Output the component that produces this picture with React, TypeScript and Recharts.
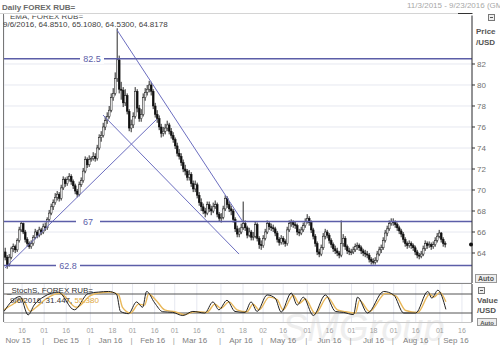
import React from "react";
import {
  ComposedChart,
  LineChart,
  Bar,
  Line,
  XAxis,
  YAxis,
  CartesianGrid,
  ReferenceLine,
  ReferenceDot,
} from "recharts";

// daily USD/RUB candles, weekdays from 11/3/2015 (last candle 9/6/2016)
const closes = [
  63.6, 62.9, 63.6, 64.4, 64.6, 64.3, 65.2, 66.2, 66.8, 66.0, 65.3, 64.9, 64.6, 64.9, 65.5, 66.0, 65.7, 66.2, 66.0, 66.5,
  66.4, 67.2, 67.8, 68.4, 68.8, 69.3, 69.6, 69.2, 70.2, 71.0, 70.6, 71.0, 71.3, 70.8, 70.4, 69.9, 69.6, 70.5, 70.9, 71.8, 72.9, 72.4, 72.9,
  73.0, 73.2, 73.0, 74.0, 75.0, 75.2, 76.0, 76.6, 77.0, 77.6, 78.8, 79.2, 80.6, 82.4, 79.6, 79.5, 78.3, 79.0, 77.5, 75.9, 76.2,
  77.0, 79.4, 77.8, 76.8, 77.2, 78.8, 79.3, 79.6, 80.0, 79.4, 78.0, 77.2, 76.8, 76.0, 75.4, 75.6, 75.9, 76.2, 75.6, 75.2, 74.8,
  74.2, 73.5, 73.2, 72.6, 72.0, 71.8, 71.2, 71.5, 70.6, 70.1, 70.5, 69.5, 68.8, 68.4, 68.0, 67.8, 68.6, 68.2, 68.0, 68.4, 68.6, 67.7, 67.3,
  67.4, 68.2, 69.2, 68.6, 68.2, 68.0, 67.2, 66.3, 65.8, 66.0, 66.4, 66.8, 66.4, 65.7, 66.0, 65.5, 65.6, 66.7, 65.4, 64.8, 64.7,
  65.4, 66.0, 66.8, 66.5, 66.4, 66.3, 65.9, 65.3, 65.0, 65.4, 65.1, 64.9, 66.2, 66.8, 66.9, 66.7, 66.6, 66.0, 65.9, 66.2, 66.6, 67.0,
  67.3, 66.9, 66.2, 65.6, 64.9, 64.1, 63.9, 64.5, 65.6, 66.0, 65.7, 65.2, 64.8, 64.4, 64.2, 64.0, 63.8, 64.9, 65.4, 64.6, 64.2, 64.1,
  64.1, 64.3, 64.6, 64.7, 64.5, 64.2, 64.0, 63.9, 63.8, 63.4, 63.2, 63.1, 63.3, 63.9, 64.3, 64.5, 65.2, 65.9, 66.3, 66.8, 67.0,
  66.9, 66.7, 66.4, 66.1, 65.8, 65.3, 64.9, 64.7, 64.9, 64.7, 64.5, 64.1, 63.8, 63.7, 63.9, 64.4, 64.9, 64.7, 64.8, 64.6, 64.8, 65.2, 65.6,
  65.9, 65.3, 64.9, 64.8178,
];
const highs = [
  64.5, 63.8, 63.9, 64.6, 64.9, 64.8, 65.4, 66.5, 67.0, 66.9, 66.2, 65.5, 65.1, 65.2, 65.7, 66.3, 66.2, 66.5, 66.4, 66.8,
  66.9, 67.4, 68.1, 68.7, 69.1, 69.7, 69.9, 69.8, 70.5, 71.3, 71.2, 71.3, 71.6, 71.5, 71.0, 70.6, 70.1, 70.8, 71.2, 72.1, 73.2, 73.1, 73.3,
  73.2, 73.6, 73.5, 74.3, 75.3, 75.6, 76.4, 77.0, 77.4, 78.0, 79.2, 79.7, 81.2, 85.4, 82.8, 80.3, 79.8, 79.6, 79.2, 77.7, 76.7,
  77.4, 79.8, 79.6, 78.1, 77.7, 79.2, 79.7, 80.0, 80.4, 80.3, 79.6, 78.3, 77.6, 77.1, 76.3, 76.0, 76.3, 76.6, 76.4, 75.9, 75.5,
  75.0, 74.5, 73.9, 73.5, 72.9, 72.4, 72.0, 71.9, 71.7, 70.9, 70.9, 70.7, 69.8, 69.2, 68.7, 68.3, 68.9, 68.9, 68.5, 68.8, 69.0, 68.8, 67.9,
  67.8, 68.5, 69.5, 69.4, 68.9, 68.5, 68.2, 67.4, 66.6, 66.4, 66.8, 68.9, 67.1, 66.6, 66.4, 66.2, 66.0, 67.0, 66.9, 65.6, 65.2,
  65.7, 66.3, 67.1, 67.0, 66.8, 66.7, 66.5, 66.1, 65.5, 65.7, 65.6, 65.3, 66.5, 67.1, 67.2, 67.1, 67.0, 66.8, 66.3, 66.5, 66.9, 67.3,
  67.7, 67.5, 67.1, 66.4, 65.8, 65.1, 64.4, 64.8, 65.9, 66.3, 66.2, 65.9, 65.4, 65.0, 64.7, 64.5, 64.2, 67.1, 65.8, 65.6, 64.8, 64.5,
  64.4, 64.6, 64.9, 65.0, 64.9, 64.7, 64.4, 64.3, 64.2, 64.0, 63.6, 63.5, 63.6, 64.2, 64.6, 64.8, 65.5, 66.2, 66.6, 67.1, 67.3,
  67.3, 67.1, 66.9, 66.6, 66.3, 66.0, 65.5, 65.1, 65.2, 65.1, 64.9, 64.7, 64.3, 64.0, 64.2, 64.7, 65.2, 65.1, 65.1, 65.0, 65.1, 65.5, 65.9,
  66.2, 66.0, 65.5, 65.108,
];
const lows = [
  63.3, 62.5, 62.7, 63.4, 64.1, 64.0, 64.1, 65.0, 66.0, 65.8, 65.0, 64.6, 64.4, 64.4, 64.7, 65.3, 65.4, 65.5, 65.7, 65.8,
  66.1, 66.2, 67.0, 67.6, 68.1, 68.6, 69.0, 68.9, 69.0, 70.0, 70.3, 70.4, 70.8, 70.5, 70.1, 69.6, 69.3, 69.4, 70.3, 70.7, 71.6, 72.1, 72.2,
  72.7, 72.8, 72.7, 72.8, 73.8, 74.6, 75.0, 75.7, 76.3, 76.8, 77.4, 78.5, 79.0, 80.3, 79.2, 78.6, 77.9, 78.0, 77.2, 75.6, 75.5,
  75.9, 76.8, 77.4, 76.5, 76.5, 77.0, 78.5, 79.0, 79.3, 79.0, 77.7, 76.9, 76.4, 75.7, 75.0, 75.1, 75.3, 75.6, 75.3, 74.9, 74.5,
  73.9, 73.2, 72.9, 72.3, 71.7, 71.4, 70.9, 70.9, 70.3, 69.8, 69.8, 69.2, 68.5, 68.0, 67.7, 67.4, 67.6, 67.9, 67.6, 67.8, 68.2, 67.4, 67.0,
  66.9, 67.2, 68.0, 68.3, 67.9, 67.6, 66.9, 66.0, 65.5, 65.5, 65.8, 66.2, 66.1, 65.4, 65.5, 65.2, 65.2, 65.4, 65.1, 64.4, 64.3,
  64.5, 65.2, 65.8, 66.2, 66.1, 66.0, 65.6, 65.0, 64.7, 64.8, 64.8, 64.6, 64.7, 66.0, 66.5, 66.4, 66.3, 65.7, 65.6, 65.7, 66.0, 66.4,
  66.8, 66.6, 65.9, 65.3, 64.6, 63.8, 63.6, 63.7, 64.3, 65.3, 65.4, 64.9, 64.5, 64.1, 63.9, 63.7, 63.5, 63.6, 64.6, 64.3, 63.9, 63.8,
  63.8, 63.9, 64.1, 64.3, 64.2, 63.9, 63.7, 63.6, 63.5, 63.1, 62.9, 62.9, 62.9, 63.1, 63.7, 64.0, 64.3, 65.0, 65.6, 66.1, 66.6,
  66.6, 66.4, 66.1, 65.8, 65.5, 65.0, 64.6, 64.4, 64.5, 64.4, 64.2, 63.8, 63.5, 63.4, 63.5, 63.7, 64.2, 64.4, 64.5, 64.3, 64.4, 64.6, 65.0,
  65.4, 65.0, 64.6, 64.53,
];
const firstOpen = 64.1;

// stochastic readings (day index, value)
const stochK: [number, number][] = [
  [0, 25], [4, 58], [8, 72], [12, 14], [15, 45], [20, 72], [27, 86], [35, 30], [42, 82], [47, 86], [52, 88],
  [56, 80], [58, 25], [62, 18], [66, 55], [69, 38], [71, 88], [75, 52], [79, 24], [84, 22], [89, 12], [94, 25],
  [100, 20], [104, 55], [107, 30], [111, 60], [115, 25], [120, 22], [123, 55], [126, 25], [131, 77], [135, 67],
  [138, 23], [143, 83], [146, 45], [149, 70], [154, 12], [160, 77], [165, 25], [169, 22], [174, 15], [176, 70],
  [181, 20], [189, 88], [194, 77], [199, 20], [205, 20], [211, 88], [213, 67], [216, 92], [220, 31.447],
];
const stochD: [number, number][] = [
  [0, 30], [5, 50], [9, 65], [13, 25], [16, 38], [21, 65], [28, 82], [36, 38], [43, 75], [48, 84], [53, 86],
  [57, 78], [59, 38], [63, 20], [67, 48], [70, 45], [72, 80], [76, 58], [80, 30], [85, 24], [90, 15], [95, 24],
  [101, 22], [105, 48], [108, 35], [112, 55], [116, 30], [121, 24], [124, 48], [127, 30], [132, 70], [136, 62],
  [139, 30], [144, 76], [147, 50], [150, 64], [155, 18], [161, 70], [166, 30], [170, 24], [175, 20], [177, 60],
  [182, 25], [190, 82], [195, 74], [200, 28], [206, 22], [212, 80], [214, 70], [217, 85], [220, 55.38],
];

const priceTicks = [64, 66, 68, 70, 72, 74, 76, 78, 80, 82];
const levels = [82.5, 67, 62.8];
const levelLabelX = [88, 84, 64];
// trend lines: [startDay, startPrice, endDay, endPrice]
const trendLines: [number, number, number, number][] = [
  [0, 62.57, 76, 76.76],
  [49, 77.14, 117, 63.9],
  [56, 85.24, 119, 66.95],
];

const dayTicks = [
  "2015-11-16", "2015-12-01", "2015-12-16", "2016-01-01", "2016-01-18", "2016-02-01", "2016-02-16",
  "2016-03-01", "2016-03-16", "2016-04-01", "2016-04-18", "2016-05-02", "2016-05-16", "2016-06-01",
  "2016-06-16", "2016-07-01", "2016-07-18", "2016-08-01", "2016-08-16", "2016-09-01", "2016-09-16",
];
const monthLabels = ["Nov 15", "Dec 15", "Jan 16", "Feb 16", "Mar 16", "Apr 16", "May 16", "Jun 16", "Jul 16", "Aug 16", "Sep 16"];
const monthMids = [
  "2015-11-12", "2015-12-16", "2016-01-15", "2016-02-15", "2016-03-15", "2016-04-15",
  "2016-05-16", "2016-06-16", "2016-07-18", "2016-08-16", "2016-09-13",
];
const monthStarts = [
  "2015-12-01", "2016-01-01", "2016-02-01", "2016-03-01", "2016-04-01",
  "2016-05-02", "2016-06-01", "2016-07-01", "2016-08-01", "2016-09-01",
];

function weekdays(start: string, n: number) {
  const out: string[] = [];
  const d = new Date(start + "T00:00:00Z");
  while (out.length < n) {
    const wd = d.getUTCDay();
    if (wd !== 0 && wd !== 6) out.push(d.toISOString().slice(0, 10));
    d.setUTCDate(d.getUTCDate() + 1);
  }
  return out;
}
const dates = weekdays("2015-11-03", 234); // axis runs to 9/23/2016

const kMap = new Map(stochK);
const dMap = new Map(stochD);
const rows = dates.map((date, i) => {
  const has = i < closes.length;
  return {
    date,
    open: has ? (i === 0 ? firstOpen : closes[i - 1]) : null,
    high: has ? highs[i] : null,
    low: has ? lows[i] : null,
    close: has ? closes[i] : null,
    range: has ? [lows[i], highs[i]] : null,
    k: kMap.has(i) ? kMap.get(i) : null,
    d: dMap.has(i) ? dMap.get(i) : null,
  };
});

const FONT = "'Liberation Sans', Arial, sans-serif";
const BLUE = "#5c5ea8";
const GRID = "#e6e8f0";

const Candle = (props: any) => {
  const { x, y, width, height, payload } = props;
  if (!payload || payload.close == null || !height) return null;
  const { open, close, high, low } = payload;
  const k = height / (high - low);
  const cx = x + width / 2;
  const yO = y + (high - open) * k;
  const yC = y + (high - close) * k;
  const top = Math.min(yO, yC);
  const h = Math.max(Math.abs(yO - yC), 0.8);
  const up = close >= open;
  return (
    <g>
      <line x1={cx} x2={cx} y1={y} y2={y + height} stroke="#111" strokeWidth={0.9} />
      <rect x={cx - 0.9} y={top} width={1.8} height={h} fill={up ? "#fff" : "#111"} stroke="#111" strokeWidth={0.5} />
    </g>
  );
};

const LevelLabel = ({ viewBox, text, dx }: any) => {
  const cx = viewBox.x + dx;
  return (
    <g>
      <rect x={cx - 12} y={viewBox.y - 5} width={24} height={10} fill="#fff" />
      <text x={cx} y={viewBox.y + 3} textAnchor="middle" fontSize={9} fontFamily={FONT} fill={BLUE}>
        {text}
      </text>
    </g>
  );
};

const DayTick = ({ x, y, payload }: any) => (
  <text x={x} y={y + 11} textAnchor="middle" fontSize={7} fontFamily={FONT} fill="#a0a0a0">
    {payload.value.slice(8, 10)}
  </text>
);

const MonthTick = ({ x, y, payload }: any) => {
  const v = payload.value;
  if (monthStarts.includes(v)) {
    return (
      <text x={x - 1} y={y + 9} textAnchor="middle" fontSize={8} fontFamily={FONT} fill="#999">
        |
      </text>
    );
  }
  const idx = monthMids.indexOf(v);
  return (
    <text x={x} y={y + 9} textAnchor="middle" fontSize={8} fontFamily={FONT} fill="#808080">
      {monthLabels[idx]}
    </text>
  );
};

export default function App() {
  return (
    <div style={{ position: "relative", width: 500, height: 345, background: "#fff", overflow: "hidden" }}>
      <style>{`body{margin:0}`}</style>
      {/* watermark */}
      <svg width={500} height={345} style={{ position: "absolute", left: 0, top: 0 }}>
        <text x={282} y={341} fontSize={38} fontFamily={FONT} fontStyle="italic" fill="#eeeeee">
          SMGroup
        </text>
      </svg>

      <div style={{ position: "absolute", left: 0, top: 0 }}>
        <ComposedChart width={500} height={284} data={rows} margin={{ top: 13, right: 0, bottom: 1, left: 4 }}>
          <CartesianGrid stroke={GRID} />
          <XAxis
            dataKey="date"
            ticks={dayTicks}
            interval={0}
            height={0}
            tick={false}
            tickLine={false}
            axisLine={false}
          />
          <YAxis
            orientation="right"
            width={28}
            domain={[61.143, 86.857]}
            allowDataOverflow
            ticks={priceTicks}
            interval={0}
            axisLine={{ stroke: "#333" }}
            tickLine={{ stroke: "#333" }}
            tickSize={3}
            tick={{ fill: "#707070", fontSize: 8, fontFamily: FONT }}
          />
          <Bar dataKey="range" shape={<Candle />} isAnimationActive={false} />
          {trendLines.map((t, i) => (
            <ReferenceLine
              key={"t" + i}
              segment={[
                { x: dates[t[0]], y: t[1] },
                { x: dates[t[2]], y: t[3] },
              ]}
              stroke="#6c6ec0"
              strokeWidth={1}
              ifOverflow="visible"
            />
          ))}
          {levels.map((v, i) => (
            <ReferenceLine
              key={"l" + i}
              y={v}
              stroke={BLUE}
              strokeWidth={1.5}
              label={<LevelLabel text={String(v)} dx={levelLabelX[i]} />}
            />
          ))}
          <ReferenceDot x={dates[233]} y={closes[closes.length - 1]} r={2} fill="#111" stroke="none" ifOverflow="visible" />
        </ComposedChart>
      </div>

      <div style={{ position: "absolute", left: 0, top: 284 }}>
        <LineChart width={500} height={61} data={rows} margin={{ top: 0, right: 0, bottom: 0, left: 4 }}>
          <CartesianGrid xAxisId="days" stroke={GRID} horizontal={false} />
          <XAxis
            xAxisId="days"
            dataKey="date"
            ticks={dayTicks}
            interval={0}
            height={12}
            tickLine={false}
            axisLine={false}
            tickSize={0}
            tickMargin={0}
            tick={<DayTick />}
          />
          <XAxis
            xAxisId="months"
            dataKey="date"
            ticks={[...monthMids, ...monthStarts]}
            interval={0}
            height={11}
            tickLine={false}
            axisLine={false}
            tickSize={0}
            tickMargin={0}
            tick={<MonthTick />}
          />
          <YAxis orientation="right" width={28} domain={[-8.4, 111.6]} tick={false} tickLine={false} axisLine={{ stroke: "#333" }} />
          <ReferenceLine xAxisId="days" y={80} stroke="#555" />
          <ReferenceLine xAxisId="days" y={20} stroke="#555" />
          <Line xAxisId="days" type="monotone" dataKey="d" stroke="#e9b85a" strokeWidth={1.4} dot={false} connectNulls isAnimationActive={false} />
          <Line xAxisId="days" type="monotone" dataKey="k" stroke="#222" strokeWidth={1} dot={false} connectNulls isAnimationActive={false} />
        </LineChart>
      </div>

      {/* frame, headers and panel labels */}
      <svg width={500} height={345} style={{ position: "absolute", left: 0, top: 0, pointerEvents: "none" }}>
        <text x={10} y={19} fontSize={8} fontFamily={FONT} fill="#444">
          EMA, FOREX RUB=
        </text>
        <rect x={0} y={0} width={500} height={15.5} fill="#fff" />
        <line x1={0} x2={458} y1={13.5} y2={13.5} stroke="#d4d4d4" />
        <line x1={458} x2={472.5} y1={13.5} y2={13.5} stroke="#333" />
        <line x1={3.5} x2={3.5} y1={14} y2={322} stroke="#777" />
        <line x1={4} x2={472} y1={283.5} y2={283.5} stroke="#888" />
        <line x1={4} x2={472} y1={322.5} y2={322.5} stroke="#c8c8c8" />
        <text x={2} y={10} fontSize={8} fontWeight="bold" fontFamily={FONT} fill="#6a6a6a">
          Daily FOREX RUB=
        </text>
        <text x={407} y={8} fontSize={8} fontFamily={FONT} fill="#a8a8a8">
          11/3/2015 - 9/23/2016 (GMT)
        </text>
        <text x={3} y={27} fontSize={8} fontFamily={FONT} fill="#404040">
          9/6/2016, 64.8510, 65.1080, 64.5300, 64.8178
        </text>

        <rect x={488.5} y={14.5} width={6} height={6} fill="#eee" stroke="#777" />
        <line x1={490} x2={493} y1={17.5} y2={17.5} stroke="#555" />
        <text x={476} y={34} fontSize={8} fontWeight="bold" fontFamily={FONT} fill="#555">Price</text>
        <text x={476} y={45} fontSize={8} fontWeight="bold" fontFamily={FONT} fill="#555">/USD</text>
        <rect x={475.5} y={274.5} width={21} height={8} fill="#eee" stroke="#999" />
        <text x={486} y={281} textAnchor="middle" fontSize={7} fontWeight="bold" fontFamily={FONT} fill="#555">Auto</text>

        <text x={7} y={293} fontSize={8} fontFamily={FONT} fill="#333">_StochS, FOREX RUB=</text>
        <text x={10} y={303} fontSize={8} fontFamily={FONT} fill="#333">
          9/6/2016, 31.447, <tspan fill="#e0a840">55.380</tspan>
        </text>
        <rect x={478.5} y={287.5} width={6} height={6} fill="#eee" stroke="#777" />
        <line x1={480} x2={483} y1={290.5} y2={290.5} stroke="#555" />
        <text x={477} y={303} fontSize={8} fontWeight="bold" fontFamily={FONT} fill="#555">Value</text>
        <text x={477} y={313} fontSize={8} fontWeight="bold" fontFamily={FONT} fill="#555">/USD</text>
        <rect x={477.5} y={318.5} width={19} height={7} fill="#eee" stroke="#999" />
        <text x={487} y={324.5} textAnchor="middle" fontSize={6} fontWeight="bold" fontFamily={FONT} fill="#555">Auto</text>
      </svg>
    </div>
  );
}
